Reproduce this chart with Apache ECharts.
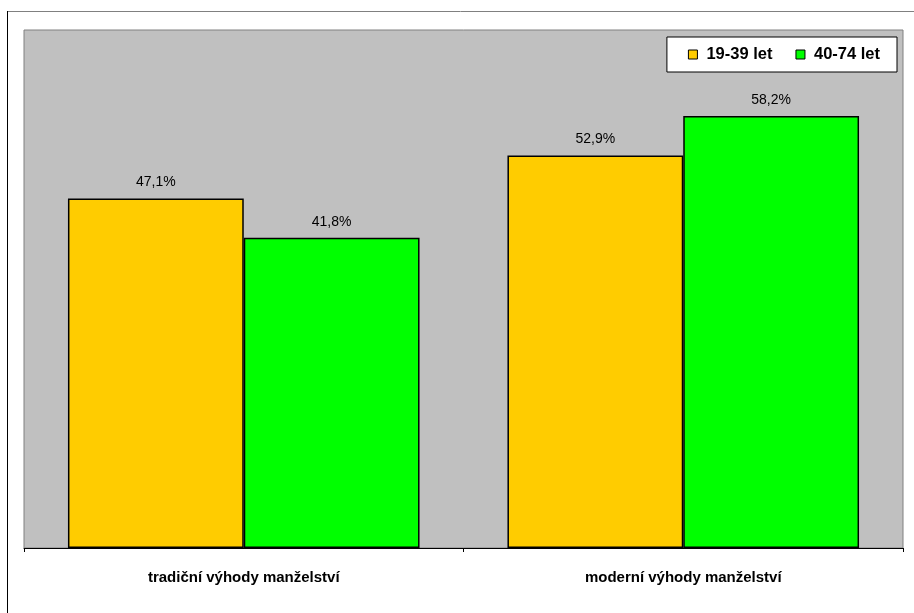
<!DOCTYPE html>
<html><head><meta charset="utf-8">
<script src="https://cdn.jsdelivr.net/npm/echarts@6/dist/echarts.min.js"></script>
<style>html,body{margin:0;padding:0;background:#fff}#c{width:914px;height:613px}</style>
</head><body><div id="c"></div>
<script>
const categories = ['tradiční výhody manželství', 'moderní výhody manželství'];
const seriesNames = ['19-39 let', '40-74 let'];
const young = [47.1, 52.9];
const old = [41.8, 58.2];
const colors = ['#FFCC00', '#00FF00'];

const chart = echarts.init(document.getElementById('c'), null, {renderer: 'canvas'});
const fmt = p => p.value.toFixed(1).replace('.', ',') + '%';
const labelCfg = {show: true, position: 'top', distance: 9, formatter: fmt,
  fontFamily: 'Liberation Sans, Arial', fontSize: 14, color: '#000'};
chart.setOption({
  animation: false,
  textStyle: {fontFamily: 'Liberation Sans, Arial'},
  graphic: [
    {type: 'line', shape: {x1: 7, y1: 11.5, x2: 914, y2: 11.5}, style: {stroke: '#808080', lineWidth: 1}},
    {type: 'line', shape: {x1: 7.5, y1: 11, x2: 7.5, y2: 613}, style: {stroke: '#000', lineWidth: 1}}
  ],
  grid: {left: 24, right: 11, top: 30, bottom: 65, show: true,
    backgroundColor: '#C0C0C0', borderColor: '#808080', borderWidth: 1},
  legend: {
    data: seriesNames, right: 17, top: 37,
    backgroundColor: '#fff', borderColor: '#000', borderWidth: 1,
    padding: [9, 17, 9, 21], itemGap: 23, itemWidth: 9, itemHeight: 9,
    icon: 'rect',
    itemStyle: {borderColor: '#000', borderWidth: 1},
    textStyle: {fontFamily: 'Liberation Sans, Arial', fontWeight: 'bold', fontSize: 16.5, color: '#000', padding: [0, 0, 0, 4]}
  },
  xAxis: {
    type: 'category', data: categories, boundaryGap: true,
    axisLine: {show: true, lineStyle: {color: '#000', width: 1}},
    axisTick: {show: true, length: 4, inside: false, lineStyle: {color: '#000'}},
    axisLabel: {margin: 22, fontFamily: 'Liberation Sans, Arial', fontWeight: 'bold', fontSize: 15, color: '#000'}
  },
  yAxis: {type: 'value', min: 0, max: 69.8, show: false, splitLine: {show: false}},
  series: [
    {name: seriesNames[0], type: 'bar', data: young, barGap: '0%', barCategoryGap: '20%',
     itemStyle: {color: colors[0], borderColor: '#000', borderWidth: 1.5}, label: labelCfg},
    {name: seriesNames[1], type: 'bar', data: old, barGap: '0%', barCategoryGap: '20%',
     itemStyle: {color: colors[1], borderColor: '#000', borderWidth: 1.5}, label: labelCfg}
  ]
});
</script></body></html>
